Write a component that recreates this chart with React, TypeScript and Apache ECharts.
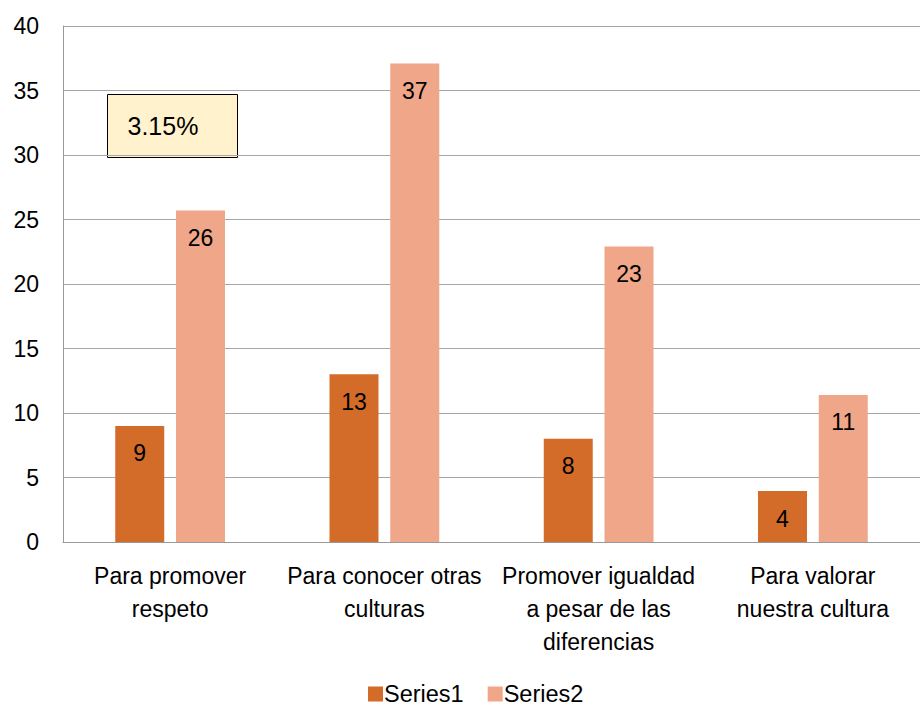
import React, { useEffect, useRef } from "react";
import * as echarts from "echarts";

const categories = [
  "Para promover\nrespeto",
  "Para conocer otras\nculturas",
  "Promover igualdad\na pesar de las\ndiferencias",
  "Para valorar\nnuestra cultura",
];
const series1 = [9, 13, 8, 3.95];
const series2 = [25.7, 37.1, 22.9, 11.4];
const seriesNames = ["Series1", "Series2"];
const annotationText = "3.15%";

export default function App() {
  const ref = useRef<HTMLDivElement>(null);
  useEffect(() => {
    if (!ref.current) return;
    const chart = echarts.init(ref.current, null, { renderer: "svg" });
    const font = "'Liberation Sans', Arial, sans-serif";
    const label = {
      show: true,
      position: "insideTop" as const,
      distance: 16,
      color: "#000",
      fontSize: 23,
      fontFamily: font,
      formatter: (p: any) => String(Math.round(p.value)),
    };
    chart.setOption({
      animation: false,
      textStyle: { fontFamily: font },
      grid: { left: 63, right: 0, top: 26, bottom: 167 },
      legend: {
        left: 368,
        top: 682,
        padding: 0,
        itemWidth: 15,
        itemHeight: 15,
        itemGap: 24,
        icon: "rect",
        textStyle: { fontSize: 23.5, lineHeight: 22, color: "#000", fontFamily: font, padding: [0, 0, 0, -4] },
        data: seriesNames,
      },
      xAxis: {
        type: "category",
        data: categories,
        axisLine: { lineStyle: { color: "#999" } },
        axisTick: { show: false },
        axisLabel: {
          interval: 0,
          fontSize: 23,
          color: "#000",
          fontFamily: font,
          lineHeight: 33,
          margin: 17,
        },
      },
      yAxis: {
        type: "value",
        min: 0,
        max: 40,
        interval: 5,
        axisLine: { show: true, lineStyle: { color: "#999" } },
        axisTick: { show: false },
        splitLine: { lineStyle: { color: "#A6A6A6" } },
        axisLabel: { fontSize: 23, color: "#000", fontFamily: font, margin: 24 },
      },
      series: [
        {
          name: seriesNames[0],
          type: "bar",
          data: series1,
          barWidth: 49,
          barGap: "24%",
          itemStyle: { color: "#D36B29" },
          label,
        },
        {
          name: seriesNames[1],
          type: "bar",
          data: series2,
          barWidth: 49,
          barGap: "24%",
          itemStyle: { color: "#F0A689" },
          label,
        },
      ],
      graphic: [
        {
          type: "group",
          left: 107,
          top: 94,
          children: [
            {
              type: "rect",
              shape: { x: 0, y: 0, width: 130, height: 63 },
              style: { fill: "#FFF2CC", stroke: "#000", lineWidth: 1 },
            },
            {
              type: "text",
              x: 20,
              y: 31,
              style: {
                text: annotationText,
                fontSize: 25,
                fontFamily: font,
                fill: "#000",
                verticalAlign: "middle",
              },
            },
          ],
        },
      ],
    });
    return () => chart.dispose();
  }, []);
  return <div ref={ref} style={{ width: 920, height: 709, position: "absolute", left: 0, top: 0 }} />;
}
